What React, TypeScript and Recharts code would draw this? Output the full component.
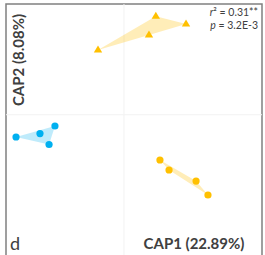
import {
  ScatterChart,
  Scatter,
  XAxis,
  YAxis,
  ReferenceLine,
  ReferenceArea,
  Customized,
} from "recharts";

// CAP1 / CAP2 scores
const triangleGroup = [
  { x: -0.22, y: 0.585 },
  { x: 0.27, y: 0.89 },
  { x: 0.526, y: 0.82 },
  { x: 0.212, y: 0.72 },
];
const blueGroup = [
  { x: -0.915, y: -0.201 },
  { x: -0.712, y: -0.17 },
  { x: -0.585, y: -0.102 },
  { x: -0.635, y: -0.269 },
];
const orangeGroup = [
  { x: 0.305, y: -0.409 },
  { x: 0.382, y: -0.499 },
  { x: 0.611, y: -0.599 },
  { x: 0.712, y: -0.725 },
];

// convex hull vertex order (indices into each group)
const triangleHull = [0, 1, 2, 3];
const blueHull = [0, 2, 3];
const orangeHull = [0, 2, 3, 1];

const xDomain: [number, number] = [-1, 1.17];
const yDomain: [number, number] = [-1.33, 1];

const xLabel = "CAP1 (22.89%)";
const yLabel = "CAP2 (8.08%)";
const panelLetter = "d";
const rSquared = "0.31**";
const pValue = "3.2E-3";

const ORANGE = "#FFC000";
const BLUE = "#00B0F0";
const TEXT = "#404040";
const FONT = "Lato, 'Open Sans', sans-serif";

const hullLine = (fill: string, opacity: number) => (props: any) => {
  const pts = (props.points || []).map((p: any) => `${p.x},${p.y}`).join(" ");
  return <polygon points={pts} fill={fill} fillOpacity={opacity} stroke="none" />;
};

const noMarker = () => <g />;

const dot = (fill: string) => (props: any) => (
  <circle cx={props.cx} cy={props.cy} r={3.6} fill={fill} />
);

const triangle = (props: any) => {
  const { cx, cy } = props;
  return (
    <polygon
      points={`${cx - 4.2},${cy + 2.6} ${cx + 4.2},${cy + 2.6} ${cx},${cy - 4.4}`}
      fill={ORANGE}
    />
  );
};

const Texts = () => (
  <g fontFamily={FONT} fill={TEXT}>
    <text
      x={24}
      y={60}
      transform="rotate(-90 24 60)"
      textAnchor="middle"
      fontSize={15}
      fontWeight="bold"
    >
      {yLabel}
    </text>
    <text x={194} y={249} textAnchor="middle" fontSize={15} fontWeight="bold">
      {xLabel}
    </text>
    <text x={10} y={250} fontSize={18}>
      {panelLetter}
    </text>
    <text x={258} y={15.5} textAnchor="end" fontSize={10.5}>
      <tspan fontStyle="italic">r</tspan>
      <tspan>{`² = ${rSquared}`}</tspan>
    </text>
    <text x={258} y={28.5} textAnchor="end" fontSize={10.5}>
      <tspan fontStyle="italic">p</tspan>
      <tspan>{` = ${pValue}`}</tspan>
    </text>
  </g>
);

export default function App() {
  return (
    <div style={{ position: "fixed", left: 0, top: 0, background: "#fff" }}>
      <ScatterChart
        width={265}
        height={265}
        margin={{ top: 4, right: 3, bottom: 3, left: 6 }}
      >
        <XAxis type="number" dataKey="x" domain={xDomain} hide allowDataOverflow />
        <YAxis type="number" dataKey="y" domain={yDomain} hide allowDataOverflow />
        <ReferenceLine x={0} stroke="#f2f2f2" strokeWidth={1} />
        <ReferenceLine y={0} stroke="#f2f2f2" strokeWidth={1} />
        <Scatter
          data={triangleHull.map((i) => triangleGroup[i])}
          shape={noMarker}
          line={hullLine(ORANGE, 0.28)}
          isAnimationActive={false}
          legendType="none"
        />
        <Scatter
          data={blueHull.map((i) => blueGroup[i])}
          shape={noMarker}
          line={hullLine(BLUE, 0.25)}
          isAnimationActive={false}
          legendType="none"
        />
        <Scatter
          data={orangeHull.map((i) => orangeGroup[i])}
          shape={noMarker}
          line={hullLine(ORANGE, 0.28)}
          isAnimationActive={false}
          legendType="none"
        />
        <Scatter data={triangleGroup} shape={triangle} isAnimationActive={false} />
        <Scatter data={blueGroup} shape={dot(BLUE)} isAnimationActive={false} />
        <Scatter data={orangeGroup} shape={dot(ORANGE)} isAnimationActive={false} />
        <ReferenceArea
          x1={xDomain[0]}
          x2={xDomain[1]}
          y1={yDomain[0]}
          y2={yDomain[1]}
          fill="none"
          stroke="#808080"
          strokeWidth={1.5}
        />
        <Customized component={Texts} />
      </ScatterChart>
    </div>
  );
}
